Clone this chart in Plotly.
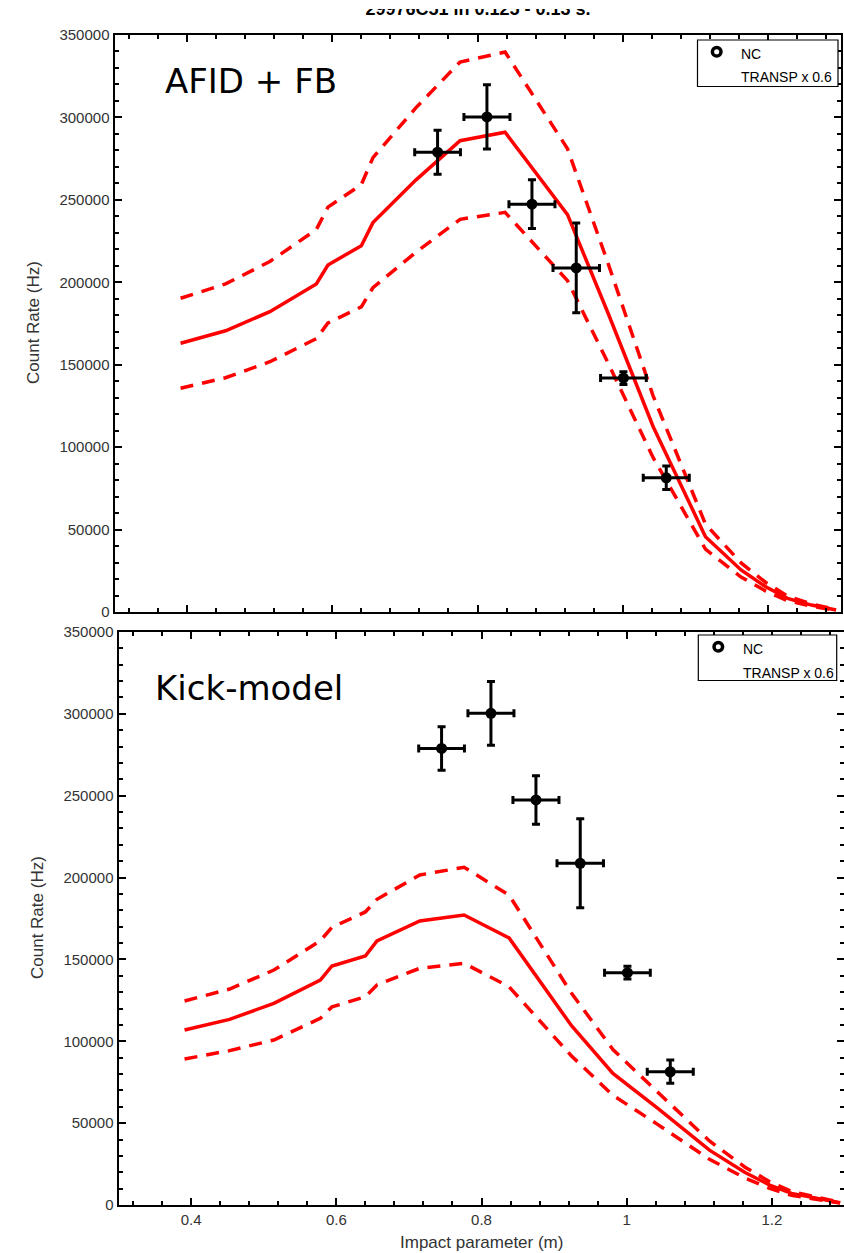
import plotly.graph_objects as go

W, H = 844, 1253

# ---------------- data ----------------
x_model = [0.391, 0.453, 0.514, 0.578, 0.594, 0.640, 0.656, 0.715, 0.776, 0.838,
           0.924, 0.981, 1.042, 1.114, 1.163, 1.197, 1.227, 1.260, 1.294]

# AFID + FB (TRANSP x 0.6): central value and upper / lower bands
afid_mid = [163000, 170600, 182200, 199000, 210500, 222200, 236200, 262000, 285900, 291000,
            241000, 180000, 112400, 45700, 25500, 15300, 8300, 4200, 1200]
afid_hi = [190300, 199000, 212600, 232000, 245600, 259300, 275600, 305800, 333600, 339700,
           281000, 210000, 131000, 53300, 29800, 17900, 9700, 4900, 1400]
afid_lo = [135700, 142100, 151800, 165800, 175300, 185100, 196800, 218200, 238200, 242400,
           201000, 150000, 93600, 38100, 21200, 12700, 6900, 3500, 1000]

# Kick-model (TRANSP x 0.6)
kick_mid = [106900, 113400, 123200, 137400, 146000, 152100, 161300, 173500, 177100, 163100,
            109500, 80400, 59300, 33500, 19800, 12200, 7100, 4400, 1400]
kick_hi = [124600, 131900, 143500, 161400, 169600, 179000, 186700, 201600, 206300, 189300,
           129300, 95000, 69200, 39100, 23100, 14200, 8300, 5100, 1600]
kick_lo = [89200, 94300, 100800, 114000, 121000, 127200, 134400, 144600, 147600, 133300,
           91000, 67000, 49400, 27900, 16500, 10200, 5900, 3700, 1200]

# NC measurements
nc_x = [0.745, 0.813, 0.875, 0.936, 1.001, 1.060]
nc_y = [278900, 300300, 247400, 208700, 141900, 81400]
nc_dx = [0.0315, 0.0317, 0.0317, 0.032, 0.0315, 0.0317]
nc_dy = [13300, 19500, 14800, 27200, 3900, 7100]

x_ticks = [0.4, 0.6, 0.8, 1.0, 1.2]
x_ticktext = ["0.4", "0.6", "0.8", "1", "1.2"]
y_ticks = [0, 50000, 100000, 150000, 200000, 250000, 300000, 350000]

title_text = "29976C51 in 0.125 - 0.13 s."
panel_labels = ["AFID + FB", "Kick-model"]
legend_labels = ["NC", "TRANSP x 0.6"]

# ---------------- helpers (layout only) ----------------
def fx(p):
    return p / W

def fy(p):
    return 1 - p / H

RED = "#ff0000"
fig = go.Figure()

panels = [
    ("x", "y", afid_mid, afid_hi, afid_lo),
    ("x2", "y2", kick_mid, kick_hi, kick_lo),
]
for xa, ya, mid, hi, lo in panels:
    for series, dash in ((hi, "13px,9px"), (lo, "13px,9px"), (mid, "solid")):
        fig.add_trace(go.Scatter(x=x_model, y=series, mode="lines", xaxis=xa, yaxis=ya,
                                 line=dict(color=RED, width=3.5, dash=dash),
                                 showlegend=False, hoverinfo="skip"))
    fig.add_trace(go.Scatter(x=nc_x, y=nc_y, mode="markers", xaxis=xa, yaxis=ya,
                             marker=dict(color="black", size=11),
                             error_x=dict(type="data", array=nc_dx, color="black", thickness=3, width=4),
                             error_y=dict(type="data", array=nc_dy, color="black", thickness=3, width=4),
                             showlegend=False))

# title (clipped at the top like the reference)
fig.add_trace(go.Scatter(x=[478], y=[10], mode="text", text=[f"<b>{title_text}</b>"],
                         textfont=dict(family="Liberation Sans", size=18, color="black"),
                         xaxis="x3", yaxis="y3", cliponaxis=True, showlegend=False,
                         hoverinfo="skip"))

tickfont = dict(family="Liberation Sans", size=15, color="#333333")
axis_common = dict(showline=True, linecolor="black", linewidth=2, mirror="allticks",
                   ticks="inside", ticklen=7, tickwidth=1.5, tickcolor="black",
                   showgrid=False, zeroline=False, tickfont=tickfont, automargin=False)

xa_common = dict(axis_common, tickvals=x_ticks, ticktext=x_ticktext,
                 minor=dict(ticks="inside", ticklen=4, dtick=0.04, tick0=0,
                            tickcolor="black", tickwidth=1.5, showgrid=False))
ya_common = dict(axis_common, tickvals=y_ticks, ticktext=[str(v) for v in y_ticks],
                 range=[0, 350000],
                 minor=dict(ticks="inside", ticklen=4, dtick=10000, tick0=0,
                            tickcolor="black", tickwidth=1.5, showgrid=False))

fig.update_layout(
    width=W, height=H,
    margin=dict(l=0, r=0, t=0, b=0, pad=0, autoexpand=False),
    paper_bgcolor="white", plot_bgcolor="white",
    xaxis=dict(xa_common, domain=[fx(114.5), fx(840.5)], range=[0.3, 1.3],
               showticklabels=False, anchor="y"),
    yaxis=dict(ya_common, domain=[fy(612), fy(35)], anchor="x"),
    xaxis2=dict(xa_common, domain=[fx(118.5), 1.0], range=[0.3, 1.2993],
                anchor="y2"),
    yaxis2=dict(ya_common, domain=[fy(1205), fy(632)], anchor="x2"),
    xaxis3=dict(domain=[0, 1], range=[0, W], visible=False, anchor="y3"),
    yaxis3=dict(domain=[fy(30), fy(9)], range=[30, 9], visible=False, anchor="x3"),
)

annotations = []
label_font = dict(family="DejaVu Sans", size=34, color="black")
annotations.append(dict(text=panel_labels[0], x=fx(163), y=fy(81), xref="paper", yref="paper",
                        xanchor="left", yanchor="middle", showarrow=False, font=label_font))
annotations.append(dict(text=panel_labels[1], x=fx(153), y=fy(688), xref="paper", yref="paper",
                        xanchor="left", yanchor="middle", showarrow=False, font=label_font))
title_font = dict(family="Liberation Sans", size=17, color="#333333")
for yc, xc in ((323, 33), (918, 37)):
    annotations.append(dict(text="Count Rate (Hz)", x=fx(xc), y=fy(yc), xref="paper", yref="paper",
                            xanchor="center", yanchor="middle", textangle=-90, showarrow=False,
                            font=title_font))
annotations.append(dict(text="Impact parameter (m)", x=fx(482), y=fy(1242), xref="paper", yref="paper",
                        xanchor="center", yanchor="middle", showarrow=False, font=title_font))

shapes = []
for (bx0, by0, bx1, by1, cx, cy, ncx, ncy, trx, tr_y) in (
        (697.5, 40, 838, 86.5, 716.7, 51.7, 739, 54, 739, 77),
        (698.3, 635, 836.7, 680.5, 718.3, 646.7, 740.5, 649, 740.5, 673)):
    shapes.append(dict(type="rect", xref="paper", yref="paper",
                       x0=fx(bx0), x1=fx(bx1), y0=fy(by1), y1=fy(by0),
                       line=dict(color="black", width=1.2), fillcolor="white", layer="above"))
    shapes.append(dict(type="circle", xref="paper", yref="paper",
                       x0=fx(cx - 4.3), x1=fx(cx + 4.3), y0=fy(cy + 4.3), y1=fy(cy - 4.3),
                       line=dict(color="black", width=3.5), fillcolor="white", layer="above"))
    annotations.append(dict(text=legend_labels[0], x=fx(ncx), y=fy(ncy), xref="paper", yref="paper",
                            xanchor="left", yanchor="middle", showarrow=False,
                            font=dict(family="Liberation Sans", size=14, color="black")))
    annotations.append(dict(text=legend_labels[1], x=fx(trx), y=fy(tr_y), xref="paper", yref="paper",
                            xanchor="left", yanchor="middle", showarrow=False,
                            font=dict(family="Liberation Sans", size=14, color="black")))

fig.update_layout(annotations=annotations, shapes=shapes)

fig.write_html("out.html")
